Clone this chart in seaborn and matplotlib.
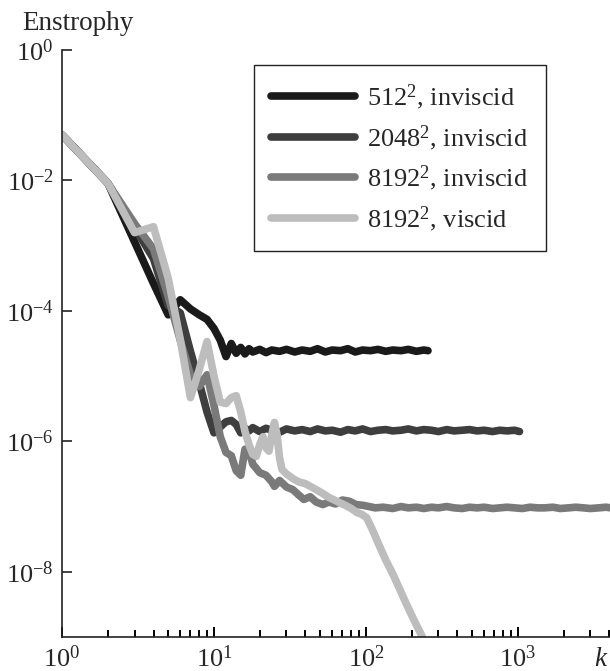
import matplotlib
matplotlib.use("Agg")
import matplotlib.pyplot as plt
import matplotlib.ticker as mticker
import seaborn as sns
import pandas as pd
import numpy as np

# series labels and grey shades
run_labels = ["512$^2$, inviscid", "2048$^2$, inviscid",
              "8192$^2$, inviscid", "8192$^2$, viscid"]
run_colors = ["#1a1a1a", "#3e3e3e", "#7a7a7a", "#bdbdbd"]

# wavenumber k and log10(enstrophy)
k_512 = [1, 2, 3, 4, 5, 6, 7, 8, 9, 10, 11, 12, 13, 14, 15, 16, 17, 18,
         20, 22, 24, 27, 30, 34, 38, 43, 48, 54, 60, 68, 76, 85, 95, 107,
         120, 135, 150, 170, 190, 215, 240, 256]
log_e_512 = [-1.30, -2.04, -2.94, -3.58, -4.06, -3.83, -3.97, -4.06, -4.13,
             -4.27, -4.45, -4.70, -4.50, -4.65, -4.56, -4.66, -4.58, -4.63,
             -4.59, -4.64, -4.60, -4.62, -4.59, -4.63, -4.60, -4.62, -4.58,
             -4.63, -4.60, -4.61, -4.58, -4.63, -4.60, -4.61, -4.59, -4.62,
             -4.60, -4.61, -4.59, -4.62, -4.60, -4.61]

k_2048 = [1, 2, 3, 4, 5, 6, 7, 8, 9, 10, 11, 12, 13, 14, 15, 16, 17, 18,
          20, 22, 24, 27, 30, 34, 38, 43, 48, 54, 60, 68, 76, 85, 95, 107,
          120, 135, 150, 170, 190, 215, 240, 270, 300, 340, 380, 430, 480,
          540, 600, 680, 760, 850, 950, 1024]
log_e_2048 = [-1.30, -2.04, -2.72, -3.20, -3.92, -4.03, -4.62, -5.10, -5.55,
              -5.87, -5.78, -5.70, -5.68, -5.74, -5.87, -5.80, -5.84, -5.79,
              -5.85, -5.80, -5.83, -5.86, -5.81, -5.84, -5.82, -5.85, -5.81,
              -5.84, -5.83, -5.86, -5.82, -5.84, -5.81, -5.85, -5.83, -5.82,
              -5.84, -5.83, -5.81, -5.84, -5.82, -5.83, -5.85, -5.82, -5.84,
              -5.83, -5.82, -5.84, -5.83, -5.85, -5.83, -5.84, -5.83, -5.85]

k_8192 = [1, 2, 3, 4, 5, 6, 7, 8, 9, 10, 11, 12, 13, 14, 15, 16, 17, 18,
          20, 22, 24, 25, 27, 30, 33, 36, 39, 43, 47, 52, 57, 63, 70, 78,
          86, 95, 105, 115, 130, 150, 170, 190, 215, 240, 270, 300, 340,
          380, 430, 480, 540, 600, 680, 760, 850, 950, 1070, 1200, 1350,
          1500, 1700, 1900, 2150, 2400, 2700, 3000, 3400, 3800, 4096]
log_e_8192 = [-1.30, -2.04, -2.66, -3.05, -3.78, -4.45, -4.98, -5.16, -4.98,
              -5.45, -5.93, -6.17, -6.22, -6.45, -6.52, -6.12, -6.15, -6.35,
              -6.48, -6.52, -6.62, -6.69, -6.60, -6.70, -6.74, -6.82, -6.89,
              -6.85, -6.93, -6.97, -6.93, -6.96, -6.90, -6.92, -6.97, -6.98,
              -7.00, -7.02, -7.01, -7.03, -7.00, -7.02, -7.01, -7.03, -7.01,
              -7.02, -7.00, -7.02, -7.03, -7.01, -7.02, -7.01, -7.03, -7.02,
              -7.01, -7.02, -7.03, -7.01, -7.02, -7.02, -7.01, -7.03, -7.02,
              -7.01, -7.02, -7.03, -7.02, -7.01, -7.02]

k_visc = [1, 2, 3, 4, 5, 6, 7, 8, 9, 10, 11, 12, 13, 14, 15, 16, 17, 18, 19,
          20, 21, 22, 23, 24, 25, 26, 27, 28, 30, 33, 36, 40, 43, 47, 52, 57,
          62, 67, 73, 80, 87, 94, 101, 110, 123, 135, 150, 167, 185, 205,
          234, 256]
log_e_visc = [-1.30, -2.04, -2.80, -2.71, -3.50, -4.44, -5.33, -4.90, -4.47,
              -5.00, -5.40, -5.42, -5.33, -5.30, -5.55, -5.85, -6.05, -6.20,
              -6.23, -6.05, -5.93, -6.10, -6.15, -5.90, -5.71, -5.90, -6.25,
              -6.43, -6.50, -6.57, -6.62, -6.65, -6.69, -6.74, -6.80, -6.86,
              -6.90, -6.94, -6.98, -7.03, -7.09, -7.12, -7.17, -7.35, -7.61,
              -7.82, -8.03, -8.27, -8.50, -8.72, -8.99, -9.30]

sns.set_style("ticks")
plt.rcParams["font.family"] = ["Liberation Serif", "DejaVu Serif"]
plt.rcParams["mathtext.fontset"] = "custom"
plt.rcParams["mathtext.rm"] = "Liberation Serif"
plt.rcParams["mathtext.it"] = "Liberation Serif:italic"
plt.rcParams["mathtext.default"] = "regular"

# long-form table for seaborn
frames = []
for lab, k, le in zip(run_labels, [k_512, k_2048, k_8192, k_visc],
                      [log_e_512, log_e_2048, log_e_8192, log_e_visc]):
    frames.append(pd.DataFrame({"k": k, "E": 10.0 ** np.array(le), "run": lab}))
df = pd.concat(frames, ignore_index=True)

fig = plt.figure(figsize=(6.1, 6.71), dpi=100)
ax = fig.add_axes([62 / 610, 34 / 671, 549 / 610, 587 / 671])

sns.lineplot(data=df, x="k", y="E", hue="run", hue_order=run_labels,
             palette=run_colors, estimator=None, sort=False, lw=5.5,
             solid_capstyle="round", solid_joinstyle="round",
             legend=False, ax=ax)

ax.set_xscale("log")
ax.set_yscale("log")
ax.set_xlim(1, 4096)
ax.set_ylim(1e-9, 1)
ax.set_xlabel("")
ax.set_ylabel("")

minor_x = [m * 10 ** d for d in range(4) for m in range(2, 10)]
ax.xaxis.set_major_locator(mticker.FixedLocator([1, 10, 100, 1000]))
ax.xaxis.set_minor_locator(mticker.FixedLocator(minor_x))
ax.xaxis.set_minor_formatter(mticker.NullFormatter())
ax.xaxis.set_major_formatter(mticker.LogFormatterMathtext())
ax.yaxis.set_major_locator(mticker.FixedLocator([1e0, 1e-2, 1e-4, 1e-6, 1e-8]))
ax.yaxis.set_minor_locator(mticker.NullLocator())
ax.yaxis.set_major_formatter(mticker.LogFormatterMathtext())

sns.despine(ax=ax)
for side in ["left", "bottom"]:
    ax.spines[side].set_linewidth(1.2)
    ax.spines[side].set_color("#222222")
ax.tick_params(axis="y", which="major", direction="in", length=7.5,
               width=1.2, labelsize=19, pad=6, color="#222222")
ax.tick_params(axis="x", which="major", direction="in", length=7.5,
               width=1.4, labelsize=19, pad=6, color="black", bottom=True)
ax.tick_params(axis="x", which="minor", direction="in", length=5,
               width=1.4, color="black", bottom=True)

leg = ax.legend(ax.lines, run_labels, loc="upper right",
                bbox_to_anchor=(0.881, 0.974), borderaxespad=0,
                fontsize=19, handlelength=3.2, handletextpad=0.45,
                borderpad=0.65, labelspacing=0.42, fancybox=False,
                framealpha=1, edgecolor="#222222")
leg.get_frame().set_linewidth(1)

fig.text(22 / 610, 1 - 30 / 671, "Enstrophy", fontsize=19.5, va="baseline", ha="left")
fig.text(594 / 610, 1 - 666 / 671, "k", fontsize=19.5, style="italic",
         va="baseline", ha="left")

fig.savefig("out.png", dpi=100)
